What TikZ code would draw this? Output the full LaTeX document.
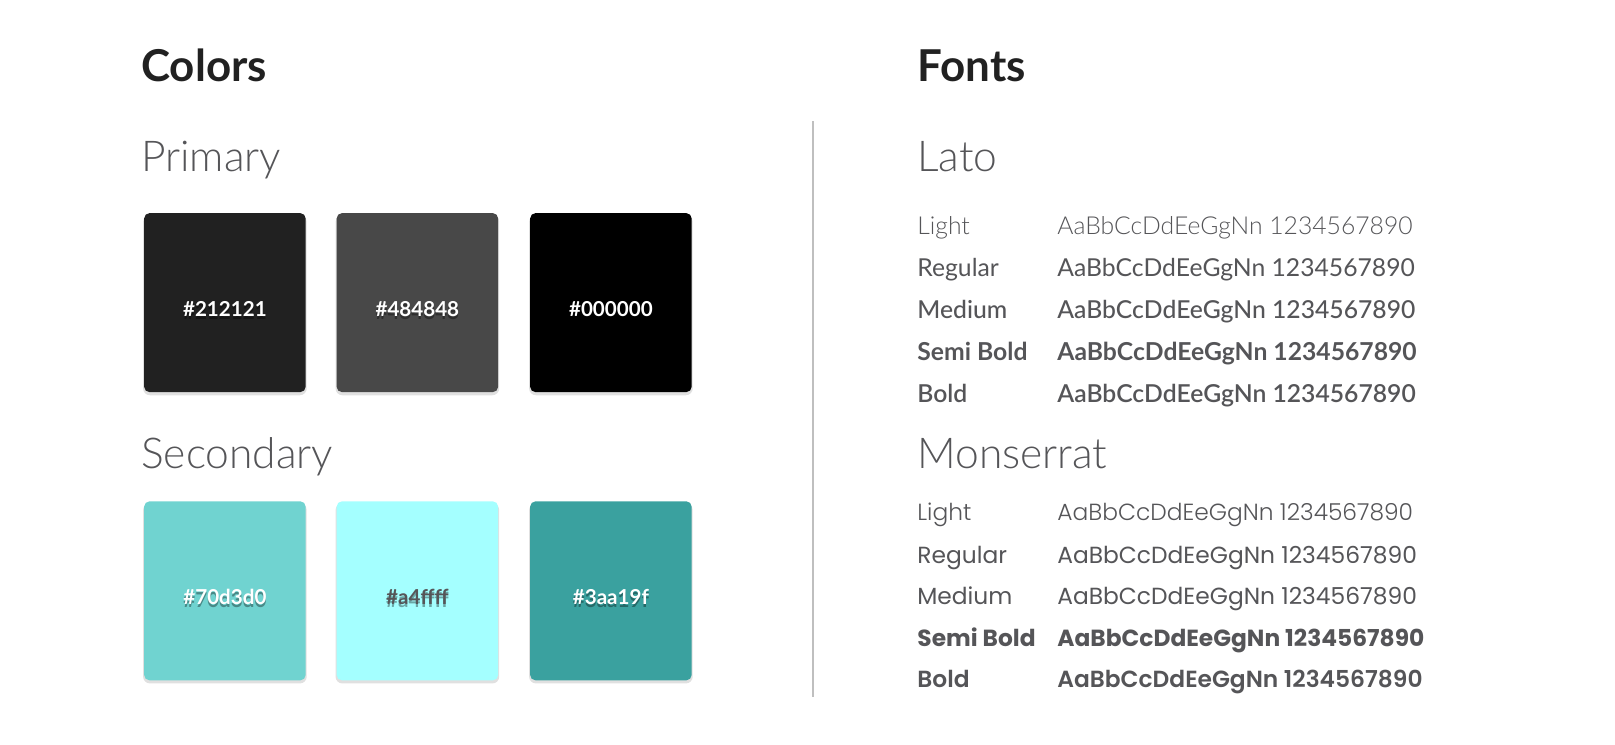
\documentclass[tikz,border=0pt]{standalone}
\usepackage{fontspec}
\setmainfont{Lato}
\newfontfamily\latolight{Lato Light}
\newfontfamily\latomedium{Lato Medium}
\newfontfamily\latosemi{Lato Semibold}
\newfontfamily\latoheavy{Lato Bold}
\newfontfamily\monsfont{Poppins}
\newfontfamily\monslight{Poppins Light}
\newfontfamily\monssemi{Poppins SemiBold}
\newfontfamily\monsbold{Poppins Bold}
\definecolor{inkdark}{HTML}{212121}
\definecolor{inkgray}{HTML}{555558}
\definecolor{cA}{HTML}{212121}
\definecolor{cB}{HTML}{484848}
\definecolor{cC}{HTML}{000000}
\definecolor{cD}{HTML}{70D3D0}
\definecolor{cE}{HTML}{A4FFFF}
\definecolor{cF}{HTML}{3AA19F}
\tikzset{
  swatch/.style={rounded corners=4pt},
  swatchshadow/.style={rounded corners=5pt, fill=black, opacity=0.12},
  hexlabel/.style={text=white, font=\bfseries\fontsize{15}{18}\selectfont},
  heading/.style={anchor=base west, inner sep=0pt, text=inkdark, font=\bfseries\fontsize{32}{36}\selectfont},
  subhead/.style={anchor=base west, inner sep=0pt, text=inkgray, font=\latolight\fontsize{31}{36}\selectfont},
  row/.style={anchor=base west, inner sep=0pt, text=inkgray},
}
\begin{document}
\begin{tikzpicture}[x=0.75pt,y=0.75pt,yscale=-1,xscale=1]
\useasboundingbox (0,0) rectangle (1569,723);

% headings
\node[heading] (colors) at (137,79) {Colors};
\node[heading] (fonts) at (891,79) {Fonts};
\node[subhead] (primary) at (137,167) {Primary};
\node[subhead] (secondary) at (137,455) {Secondary};

% swatches
\foreach \col/\x/\y/\hex/\tc in {cA/140/207/212121/white, cB/327/207/484848/white, cC/515/207/000000/white,
    cD/140/487/70d3d0/white, cE/327/487/a4ffff/inkgray, cF/515/487/3aa19f/white}{
  \fill[swatchshadow] (\x-1,\y+2) rectangle ++(159,175);
  \fill[swatch, \col] (\x,\y) rectangle ++(157,174);
  \node[hexlabel, text=black, opacity=0.35] at (\x+78.5,\y+96) {\#\hex};
  \node[hexlabel, text=\tc] (hex\hex) at (\x+78.5,\y+93) {\#\hex};
}

% divider
\draw[black!25, line width=1.2pt] (790,118) -- (790,677);

% Lato
\node[subhead] (lato) at (891,167) {Lato};
\foreach \y/\f/\name in {228/\latolight/Light, 269/\relax/Regular, 309/\latomedium/Medium, 350/\latoheavy/Semi Bold, 391/\latosemi/Bold}{
  \node[row, font=\fontsize{18}{20}\selectfont\f] (lato\name) at (891,\y) {\name};
  \node[row, font=\fontsize{18}{20}\selectfont\f] at (1027,\y) {AaBbCcDdEeGgNn 1234567890};
}

% Monserrat
\node[subhead] (mons) at (891,455) {Monserrat};
\foreach \y/\f/\name in {506/\monslight/Light, 547/\monsfont/Regular, 587/\monsfont/Medium, 628/\monsbold/Semi Bold, 668/\monssemi/Bold}{
  \node[row, font=\fontsize{17}{20}\selectfont\f] (mons\name) at (891,\y) {\name};
  \node[row, font=\fontsize{17}{20}\selectfont\f] at (1027,\y) {AaBbCcDdEeGgNn 1234567890};
}
\end{tikzpicture}
\end{document}
